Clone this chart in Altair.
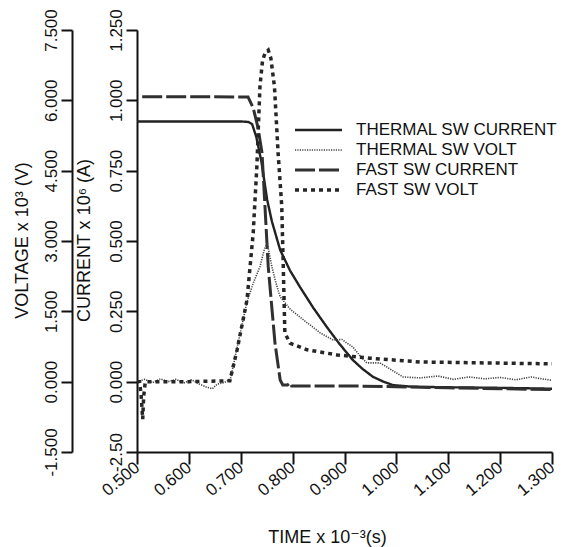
import altair as alt
import pandas as pd

SERIES = ["THERMAL SW CURRENT", "THERMAL SW VOLT", "FAST SW CURRENT", "FAST SW VOLT"]

# Current traces (A x 10^6)
thermal_i_t = [0.500, 0.700, 0.715, 0.722, 0.730, 0.740, 0.751, 0.760, 0.776, 0.795,
               0.814, 0.840, 0.866, 0.890, 0.916, 0.935, 0.955, 0.975, 0.993, 1.030,
               1.100, 1.200, 1.300]
thermal_i = [0.925, 0.925, 0.923, 0.915, 0.870, 0.780, 0.646, 0.570, 0.468, 0.395,
             0.337, 0.262, 0.194, 0.135, 0.077, 0.045, 0.017, 0.000, -0.012, -0.018,
             -0.020, -0.022, -0.025]

fast_i_t = [0.510, 0.714, 0.724, 0.733, 0.741, 0.746, 0.753, 0.766, 0.776, 0.781,
            0.790, 0.795, 0.798, 0.900, 1.000, 1.100, 1.200, 1.300]
fast_i = [1.013, 1.012, 0.973, 0.905, 0.813, 0.646, 0.408, 0.137, 0.006, -0.012,
          -0.012, -0.004, -0.015, -0.015, -0.018, -0.022, -0.025, -0.028]

# Voltage traces (V x 10^3)
thermal_v_t = [0.500, 0.515, 0.530, 0.545, 0.560, 0.575, 0.590, 0.605, 0.620, 0.635,
               0.645, 0.655, 0.668, 0.680, 0.699, 0.712, 0.724, 0.737, 0.745, 0.751,
               0.760, 0.768, 0.776, 0.795, 0.814, 0.853, 0.878, 0.895, 0.905, 0.916,
               0.930, 0.943, 0.968, 0.982, 1.013, 1.046, 1.080, 1.110, 1.140, 1.170,
               1.200, 1.230, 1.260, 1.280, 1.300]
thermal_v = [0.00, 0.05, -0.02, 0.06, 0.00, 0.05, -0.03, 0.04, -0.05, -0.12,
             -0.15, -0.05, -0.02, 0.05, 1.04, 1.70, 2.10, 2.45, 2.80, 2.96,
             2.45, 2.10, 1.81, 1.55, 1.38, 1.04, 0.89, 0.90, 0.82, 0.74,
             0.55, 0.40, 0.40, 0.31, 0.10, 0.08, 0.12, 0.05, 0.10, 0.06,
             0.09, 0.04, 0.10, 0.06, 0.03]

fast_v_t = [0.500, 0.505, 0.508, 0.511, 0.513, 0.516, 0.600, 0.679, 0.693, 0.712,
            0.724, 0.731, 0.737, 0.742, 0.747, 0.753, 0.758, 0.765, 0.772, 0.779,
            0.782, 0.785, 0.795, 0.828, 0.886, 0.949, 1.046, 1.300]
fast_v = [0.00, 0.00, -0.30, -0.80, -0.30, 0.00, 0.00, 0.02, 0.68, 1.74,
          3.17, 4.58, 6.29, 6.85, 7.01, 7.07, 6.90, 6.29, 4.88, 3.75,
          2.45, 1.04, 0.82, 0.68, 0.57, 0.50, 0.42, 0.38]

x_ticks = [0.5, 0.6, 0.7, 0.8, 0.9, 1.0, 1.1, 1.2, 1.3]
i_ticks = [-0.25, 0.0, 0.25, 0.5, 0.75, 1.0, 1.25]
v_ticks = [-1.5, 0.0, 1.5, 3.0, 4.5, 6.0, 7.5]

COLORS = ["#222222", "#444444", "#303030", "#262626"]
DASHES = [[1, 0], [1.2, 1.2], [20, 4], [4, 4]]
WIDTHS = [2.4, 1.6, 3.0, 3.5]

cur_df = pd.concat([
    pd.DataFrame({"t": thermal_i_t, "v": thermal_i, "series": SERIES[0]}),
    pd.DataFrame({"t": fast_i_t, "v": fast_i, "series": SERIES[2]}),
])
volt_df = pd.concat([
    pd.DataFrame({"t": thermal_v_t, "v": thermal_v, "series": SERIES[1]}),
    pd.DataFrame({"t": fast_v_t, "v": fast_v, "series": SERIES[3]}),
])

FONT = "Liberation Sans, Arial, DejaVu Sans"

x_enc = alt.X(
    "t:Q",
    scale=alt.Scale(domain=[0.5, 1.3], nice=False, zero=False),
    axis=alt.Axis(
        values=x_ticks, format=".3f", title="TIME x 10⁻³(s)",
        labelAngle=-40, labelAlign="right", labelBaseline="middle",
        labelPadding=1, tickSize=12, titleX=190, titleY=90,
        titleAlign="center", titleBaseline="alphabetic",
    ),
)

color = alt.Color("series:N", scale=alt.Scale(domain=SERIES, range=COLORS),
                  legend=alt.Legend(title=None))
dash = alt.StrokeDash("series:N", scale=alt.Scale(domain=SERIES, range=DASHES),
                      legend=alt.Legend(title=None))
width = alt.StrokeWidth("series:N",
                        scale=alt.Scale(type="ordinal", domain=SERIES, range=WIDTHS),
                        legend=alt.Legend(title=None))

cur = alt.Chart(cur_df).mark_line().encode(
    x=x_enc,
    y=alt.Y(
        "v:Q",
        scale=alt.Scale(domain=[-0.25, 1.25], nice=False, zero=False),
        axis=alt.Axis(
            orient="left", values=i_ticks, title="CURRENT x 10⁶ (A)",
            labelExpr="datum.value == -0.25 ? '-2.50' : format(datum.value, '.3f')",
            labelAngle=-90, labelAlign="center", labelBaseline="bottom",
            labelPadding=1, tickSize=11,
            titleAngle=-90, titleX=-48, titleY=210, titleAlign="center",
            titleBaseline="alphabetic",
        ),
    ),
    color=color, strokeDash=dash, strokeWidth=width,
)

volt = alt.Chart(volt_df).mark_line().encode(
    x=x_enc,
    y=alt.Y(
        "v:Q",
        scale=alt.Scale(domain=[-1.5, 7.5], nice=False, zero=False),
        axis=alt.Axis(
            orient="left", offset=65, values=v_ticks,
            labelExpr="datum.value < 0 ? '-' + format(-datum.value, '.3f') : format(datum.value, '.3f')",
            title="VOLTAGE x 10³ (V)",
            labelAngle=-90, labelAlign="center", labelBaseline="bottom",
            labelPadding=1, tickSize=11,
            titleAngle=-90, titleX=-45, titleY=210, titleAlign="center",
            titleBaseline="alphabetic",
        ),
    ),
    color=color, strokeDash=dash, strokeWidth=width,
)

chart = alt.layer(cur, volt).resolve_scale(y="independent").properties(
    width=415, height=422,
    autosize=alt.AutoSizeParams(type="none"),
    padding={"left": 129, "top": 22, "right": 11, "bottom": 95},
    background="white",
).configure_view(stroke=None).configure_axis(
    grid=False, domainColor="#111", domainWidth=2, tickColor="#111", tickWidth=2,
    labelFont=FONT, labelFontSize=17, labelColor="#111",
    titleFont=FONT, titleFontSize=18, titleFontWeight="normal", titleColor="#111",
).configure_legend(
    orient="none", legendX=156, legendY=90, padding=0,
    labelFont=FONT, labelFontSize=17, labelColor="#111", labelOffset=12,
    labelLimit=400, clipHeight=20,
    symbolType="stroke", symbolSize=2209, rowPadding=0,
)

chart.save("out.html", embed_options={"renderer": "svg", "actions": False})
